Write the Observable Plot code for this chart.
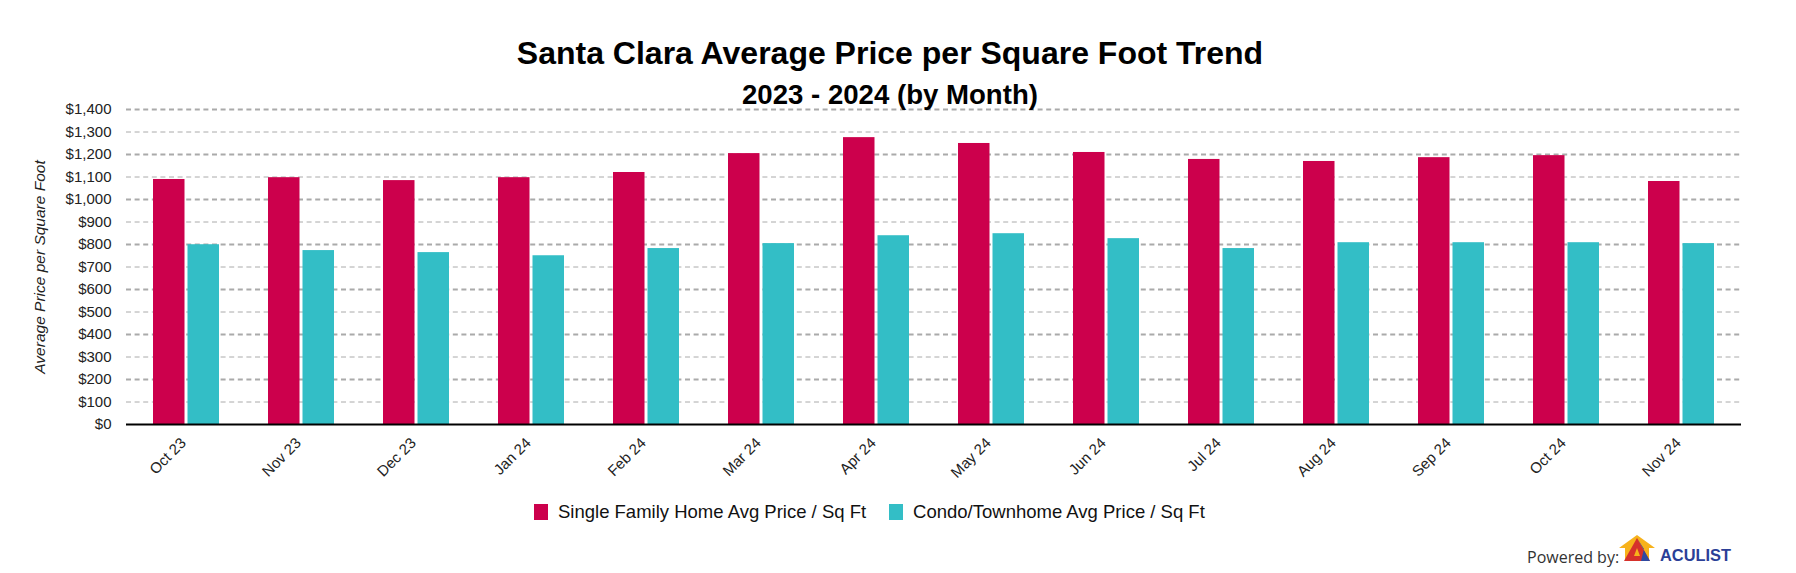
<!DOCTYPE html>
<html>
<head>
<meta charset="utf-8">
<script src="https://cdn.jsdelivr.net/npm/d3@7"></script>
<script src="https://cdn.jsdelivr.net/npm/@observablehq/plot@0.6"></script>
<style>
  html, body { margin: 0; padding: 0; background: #fff; }
  body { width: 1796px; height: 573px; position: relative; overflow: hidden;
         font-family: "Liberation Sans", Arial, sans-serif; color: #111; }
  #chart { position: absolute; left: 0; top: 90px; z-index: 1; }
  .title { position: absolute; left: 0; width: 1780px; text-align: center; font-weight: bold;
           color: #000; white-space: nowrap; z-index: 2; }
  #t1 { top: 37px; font-size: 32px; line-height: 32px; }
  #t2 { top: 81px; font-size: 27.6px; line-height: 27.6px; }
  #legend { position: absolute; left: 534px; top: 502px; display: flex; align-items: center;
            font-size: 18.5px; line-height: 20px; color: #111; white-space: nowrap; }
  .sw { width: 14px; height: 16px; display: inline-block; margin-right: 10px; }
  .item { display: flex; align-items: center; margin-right: 23px; }
  #powered { position: absolute; left: 1527px; top: 549px; font-family: "Open Sans", sans-serif;
             font-size: 16px; line-height: 16px; color: #333; white-space: nowrap; }
  #logo { position: absolute; left: 1619px; top: 534px; }
</style>
</head>
<body>
<div class="title" id="t1">Santa Clara Average Price per Square Foot Trend</div>
<div class="title" id="t2">2023 - 2024 (by Month)</div>
<div id="chart"></div>
<div id="legend"></div>
<div id="powered">Powered by:</div>
<svg id="logo" width="130" height="34" viewBox="0 0 130 34">
  <polygon points="0,14 18,1 36,14 30,14 30,27 6,27 6,14" fill="#f7b21b"/>
  <polygon points="18,4 31,27 5,27" fill="#d6312b"/>
  <polygon points="18,4 25,15 22,27 31,27" fill="#2f4aa0"/>
  <polygon points="18,14 21,22 15,22" fill="#f7b21b"/>
  <text x="41" y="27" font-family="'Liberation Sans', Arial, sans-serif" font-weight="bold" font-size="17"
        textLength="71" lengthAdjust="spacingAndGlyphs" fill="#2b3f97">ACULIST</text>
</svg>
<script>
// ---- data ----
const months = ["Oct 23","Nov 23","Dec 23","Jan 24","Feb 24","Mar 24","Apr 24","May 24","Jun 24","Jul 24","Aug 24","Sep 24","Oct 24","Nov 24"];
const singleFamily = [1089, 1097, 1084, 1097, 1120, 1204, 1275, 1249, 1209, 1178, 1169, 1186, 1195, 1080];
const condo = [799, 773, 764, 750, 782, 804, 839, 848, 826, 782, 808, 808, 808, 804];
const seriesNames = ["Single Family Home Avg Price / Sq Ft", "Condo/Townhome Avg Price / Sq Ft"];
const seriesColors = ["#cc004c", "#33bec6"];
const yTicks = d3.range(0, 1401, 100);
const majorTicks = yTicks.filter(d => d > 0 && d % 200 === 0);
const minorTicks = yTicks.filter(d => d % 200 === 100);

const sfRows = months.map((m, i) => ({month: m, value: singleFamily[i]}));
const cdRows = months.map((m, i) => ({month: m, value: condo[i]}));

const plot = Plot.plot({
  width: 1796,
  height: 400,
  marginLeft: 126,
  marginRight: 55,
  marginTop: 19,
  marginBottom: 66,
  style: {background: "transparent", fontFamily: "'Liberation Sans', Arial, sans-serif", color: "#222"},
  x: {type: "band", domain: months, paddingInner: 0.428, paddingOuter: 0.214},
  y: {domain: [0, 1400]},
  marks: [
    Plot.ruleY(minorTicks, {stroke: "#aaa", strokeWidth: 1, strokeDasharray: "5,3.6"}),
    Plot.ruleY(majorTicks, {stroke: "#aaa", strokeWidth: 2, strokeDasharray: "5,3.6"}),
    Plot.barY(sfRows, {x: "month", y: "value", fill: seriesColors[0], insetRight: 34.5}),
    Plot.barY(cdRows, {x: "month", y: "value", fill: seriesColors[1], insetLeft: 34.5}),
    Plot.ruleY([0], {stroke: "#000", strokeWidth: 2}),
    Plot.axisY({ticks: yTicks, tickFormat: d => "$" + d3.format(",")(d), tickSize: 0, tickPadding: 15,
                fontSize: 15, label: null, fill: "#222"}),
    Plot.axisX({tickRotate: -45, tickSize: 0, tickPadding: 16, dx: -3, fontSize: 15, label: null, fill: "#222"}),
    Plot.text(["Average Price per Square Foot"], {frameAnchor: "left", rotate: -90, dx: -86,
              textAnchor: "middle", fontSize: 15.5, fontStyle: "italic", fill: "#222"})
  ]
});
document.getElementById("chart").appendChild(plot);

const legend = document.getElementById("legend");
seriesNames.forEach((name, i) => {
  const item = document.createElement("div");
  item.className = "item";
  const sw = document.createElement("span");
  sw.className = "sw";
  sw.style.background = seriesColors[i];
  const label = document.createElement("span");
  label.textContent = name;
  item.appendChild(sw);
  item.appendChild(label);
  legend.appendChild(item);
});
</script>
</body>
</html>
